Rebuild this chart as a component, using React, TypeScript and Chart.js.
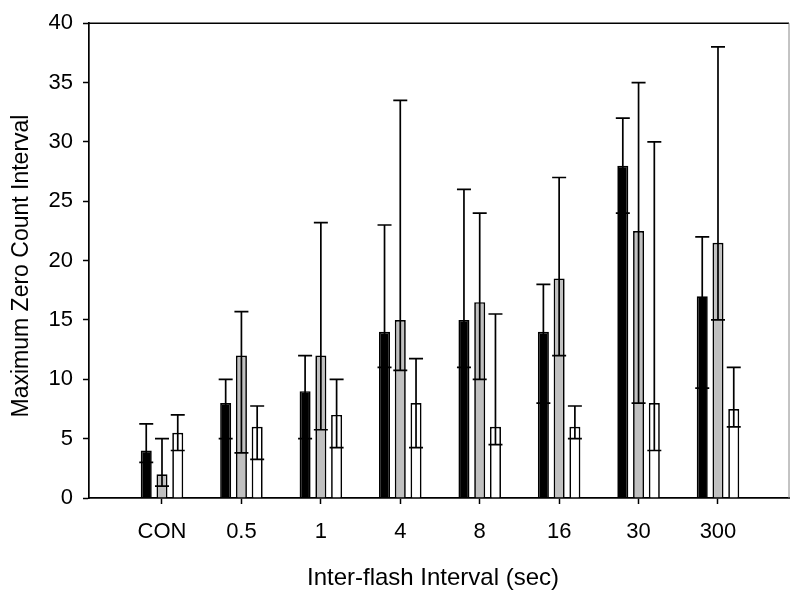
import React, { useEffect, useRef } from "react";
import { Chart, registerables } from "chart.js";

Chart.register(...registerables);

const categories = ["CON", "0.5", "1", "4", "8", "16", "30", "300"];

const blackMeans = [4, 8, 9, 14, 15, 14, 28, 17];
const blackUpper = [6.25, 10, 12, 23, 26, 18, 32, 22];
const blackLower = [3, 5, 5, 11, 11, 8, 24, 9.25];

const grayMeans = [2, 12, 12, 15, 16.5, 18.5, 22.5, 21.5];
const grayUpper = [5, 15.7, 23.2, 33.5, 24, 27, 35, 38];
const grayLower = [1, 3.8, 5.75, 10.75, 10, 12, 8, 15];

const whiteMeans = [5.5, 6, 7, 8, 6, 6, 8, 7.5];
const whiteUpper = [7, 7.75, 10, 11.75, 15.5, 7.75, 30, 11];
const whiteLower = [4, 3.25, 4.25, 4.25, 4.5, 5, 4, 6];

const yTicks = [0, 5, 10, 15, 20, 25, 30, 35, 40];

const xTitle = "Inter-flash Interval (sec)";
const yTitle = "Maximum Zero Count Interval";

const FONT = "'Liberation Sans', Arial, Helvetica, sans-serif";

const errorBarPlugin = {
  id: "errorBars",
  afterDatasetsDraw(chart: any) {
    const ctx = chart.ctx;
    const yScale = chart.scales.y;
    ctx.save();
    ctx.strokeStyle = "#000";
    ctx.lineWidth = 1.7;
    chart.data.datasets.forEach((ds: any, di: number) => {
      const meta = chart.getDatasetMeta(di);
      meta.data.forEach((bar: any, i: number) => {
        const lo = ds.errLower[i];
        const hi = ds.errUpper[i];
        const x = bar.x;
        const yl = yScale.getPixelForValue(lo);
        const yh = yScale.getPixelForValue(hi);
        const half = 7;
        ctx.beginPath();
        ctx.moveTo(x, yl);
        ctx.lineTo(x, yh);
        ctx.moveTo(x - half, yh);
        ctx.lineTo(x + half, yh);
        ctx.moveTo(x - half, yl);
        ctx.lineTo(x + half, yl);
        ctx.stroke();
      });
    });
    ctx.restore();
  },
};

const framePlugin = {
  id: "frame",
  afterDraw(chart: any) {
    const { ctx, chartArea } = chart;
    ctx.save();
    ctx.strokeStyle = "#000";
    ctx.lineWidth = 1.5;
    ctx.beginPath();
    ctx.moveTo(chartArea.left, chartArea.top);
    ctx.lineTo(chartArea.right, chartArea.top);
    ctx.stroke();
    ctx.strokeStyle = "#888";
    ctx.lineWidth = 1;
    ctx.beginPath();
    ctx.moveTo(chartArea.right, chartArea.top);
    ctx.lineTo(chartArea.right, chartArea.bottom);
    ctx.stroke();

    // axis titles
    ctx.fillStyle = "#000";
    ctx.textAlign = "center";
    ctx.textBaseline = "middle";
    ctx.font = `24px ${FONT}`;
    ctx.fillText(xTitle, 433, 578);
    ctx.translate(22, 266);
    ctx.rotate(-Math.PI / 2);
    ctx.font = `23px ${FONT}`;
    ctx.fillText(yTitle, 0, 0);
    ctx.restore();
  },
};

export default function App() {
  const canvasRef = useRef<HTMLCanvasElement | null>(null);

  useEffect(() => {
    if (!canvasRef.current) return;
    const mk = (vals: number[]) => vals.map((v, i) => ({ x: i, y: v }));
    const chart = new Chart(canvasRef.current, {
      type: "bar",
      data: {
        datasets: [
          {
            label: "A",
            data: mk(blackMeans),
            backgroundColor: "#000000",
            borderColor: "#000000",
            borderWidth: 1.7,
            errUpper: blackUpper,
            errLower: blackLower,
          } as any,
          {
            label: "B",
            data: mk(grayMeans),
            backgroundColor: "#c0c0c0",
            borderColor: "#000000",
            borderWidth: 1.7,
            errUpper: grayUpper,
            errLower: grayLower,
          } as any,
          {
            label: "C",
            data: mk(whiteMeans),
            backgroundColor: "#ffffff",
            borderColor: "#000000",
            borderWidth: 1.7,
            errUpper: whiteUpper,
            errLower: whiteLower,
          } as any,
        ],
      },
      options: {
        responsive: false,
        animation: false,
        categoryPercentage: 0.595,
        barPercentage: 0.7,
        layout: { padding: { top: 20, right: 11, left: 0, bottom: 0 } },
        plugins: {
          legend: { display: false },
          tooltip: { enabled: false },
        },
        scales: {
          x: {
            type: "linear",
            offset: false,
            min: -0.919,
            max: 7.894,
            afterBuildTicks: (axis: any) => {
              axis.ticks = categories.map((_, i) => ({ value: i }));
            },
            afterFit: (axis: any) => {
              axis.height = 102;
            },
            ticks: {
              callback: (v: any) => categories[v as number] ?? "",
              color: "#000",
              font: { family: FONT, size: 22 },
              padding: 15,
              maxRotation: 0,
              autoSkip: false,
            },
            grid: {
              offset: false,
              drawOnChartArea: false,
              drawTicks: true,
              tickLength: 6,
              tickColor: "#000",
              tickWidth: 1.5,
            },
            border: { display: true, color: "#000", width: 1.7 },
            title: { display: false },
          },
          y: {
            type: "linear",
            min: 0,
            max: 40,
            afterBuildTicks: (axis: any) => {
              axis.ticks = yTicks.map((v) => ({ value: v }));
            },
            afterFit: (axis: any) => {
              axis.width = 89;
            },
            ticks: {
              color: "#000",
              font: { family: FONT, size: 22 },
              padding: 10,
            },
            grid: {
              drawOnChartArea: false,
              drawTicks: true,
              tickLength: 6,
              tickColor: "#000",
              tickWidth: 1.5,
            },
            border: { display: true, color: "#000", width: 1.7 },
            title: { display: false },
          },
        },
      },
      plugins: [errorBarPlugin, framePlugin],
    } as any);
    return () => chart.destroy();
  }, []);

  return (
    <div style={{ position: "absolute", left: 0, top: 0, width: 800, height: 600, background: "#fff" }}>
      <canvas ref={canvasRef} width={800} height={600} style={{ display: "block" }} />
    </div>
  );
}
